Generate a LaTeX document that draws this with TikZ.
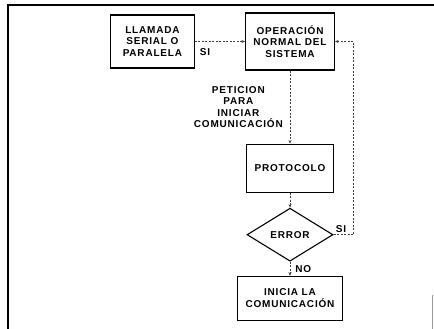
\documentclass[tikz,border=0pt]{standalone}
\usepackage{fontspec}
\setmainfont{Liberation Sans}[LetterSpace=8]
\usetikzlibrary{positioning,shapes.geometric,arrows.meta}

\tikzset{
  box/.style={draw, line width=1.1pt, align=center, font=\fontsize{10}{11.5}\selectfont\bfseries},
  lbl/.style={font=\fontsize{10}{11.5}\selectfont\bfseries, inner sep=1pt},
  flow/.style={->, draw=black!75, line width=0.5pt, dash pattern=on 2pt off 1.5pt},
}

\begin{document}
\begin{tikzpicture}[x=1pt, y=1pt, >={Stealth[length=3.5pt,width=3pt]}]
  \useasboundingbox (0,0) rectangle (434,329);

  % marco
  \draw[line width=1.3pt] (8,0) -- (8,324) -- (434,324);
  \draw[line width=0.4pt, black!40] (432,0) -- (432,34);

  \node (oper) [box, minimum width=89pt, minimum height=57pt] at (290,287.5) {OPERACIÓN\\NORMAL DEL\\SISTEMA};
  \node (llam) [box, minimum width=84pt, minimum height=53pt, left=50pt of oper] {LLAMADA\\SERIAL O\\PARALELA};
  \node (proto) [box, minimum width=87pt, minimum height=48pt, below=73pt of oper] {PROTOCOLO};
  \node (error) [box, diamond, minimum width=86pt, minimum height=53pt, inner sep=0pt, below=15pt of proto] {ERROR};
  \node (inicia) [box, minimum width=105pt, minimum height=44pt, below=14pt of error] {INICIA LA\\COMUNICACIÓN};

  \draw[flow] (llam) -- (oper) node (si1) [lbl, pos=0.2, below=6pt] {SI};
  \draw[flow] (oper) -- (proto) node (pet) [lbl, midway, left=6pt, align=center] {PETICION\\PARA\\INICIAR\\COMUNICACIÓN};
  \draw[flow] (proto) -- (error);
  \draw[flow] (error) -- (inicia) node (no) [lbl, midway, right=4pt] {NO};
  \draw[flow] (error.east) node (si2) [lbl, above right=1pt and 1pt] {SI} -- ++(20,0) |- (oper.east);
\end{tikzpicture}
\end{document}
